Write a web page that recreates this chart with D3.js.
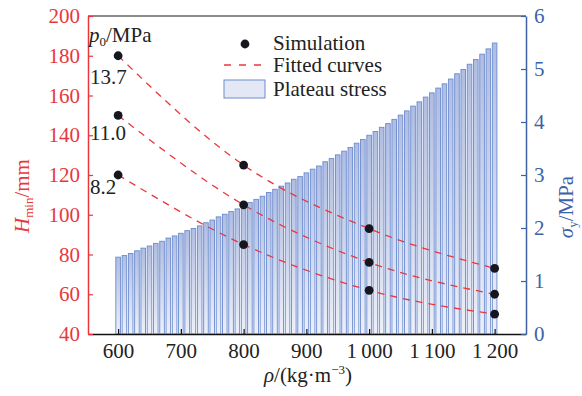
<!DOCTYPE html>
<html><head><meta charset="utf-8">
<script src="https://cdn.jsdelivr.net/npm/d3@7"></script>
<style>
html,body{margin:0;padding:0;background:#fff;}
svg{display:block;}
svg text{font-family:"Liberation Serif","Times New Roman","DejaVu Serif",serif !important;}
</style></head>
<body><svg id="c" width="582" height="396"></svg>
<script>
// ---- data ----
const simRho = [600, 800, 1000, 1200];
const p0Labels = ["13.7", "11.0", "8.2"];
const hSim137 = [180, 125, 93, 73];
const hSim110 = [150, 105, 76, 60];
const hSim82  = [120, 85, 62, 50];
const barRho = [600,610,620,630,640,650,660,670,680,690,700,710,720,730,740,750,760,770,780,790,800,810,820,830,840,850,860,870,880,890,900,910,920,930,940,950,960,970,980,990,1000,1010,1020,1030,1040,1050,1060,1070,1080,1090,1100,1110,1120,1130,1140,1150,1160,1170,1180,1190,1200];
const plateau = [1.45,1.48,1.52,1.57,1.62,1.66,1.71,1.75,1.81,1.85,1.90,1.95,1.99,2.04,2.10,2.15,2.21,2.26,2.31,2.36,2.42,2.48,2.54,2.60,2.67,2.73,2.79,2.85,2.92,2.97,3.04,3.11,3.17,3.25,3.31,3.38,3.45,3.52,3.60,3.67,3.75,3.82,3.90,3.97,4.05,4.13,4.21,4.30,4.38,4.47,4.55,4.64,4.72,4.81,4.91,4.99,5.09,5.18,5.28,5.38,5.49];
const xTicks = [600, 700, 800, 900, 1000, 1100, 1200];
const xTickLabels = ["600", "700", "800", "900", "1\u2009000", "1\u2009100", "1\u2009200"];
const yLeftTicks = [40, 60, 80, 100, 120, 140, 160, 180, 200];
const yRightTicks = [0, 1, 2, 3, 4, 5, 6];

// ---- layout ----
const L = 88, R = 526, T = 16, B = 334;
const RED = "#e8383d", BLUE = "#3d62a8";
const svg = d3.select("#c");

const x = d3.scaleLinear().domain([552, 1250]).range([L, R]);
const yL = d3.scaleLinear().domain([40, 200]).range([B, T]);
const yR = d3.scaleLinear().domain([0, 6]).range([B, T]);

const defs = svg.append("defs");
const g = defs.append("linearGradient").attr("id", "bg").attr("x1", 0).attr("y1", 0).attr("x2", 0).attr("y2", 1);
g.append("stop").attr("offset", "0%").attr("stop-color", "#b0bde1");
g.append("stop").attr("offset", "100%").attr("stop-color", "#edf0f8");

// bars
const bw = 4.6;
svg.append("g").selectAll("rect").data(barRho).join("rect")
  .attr("x", (d) => x(d) - bw / 2)
  .attr("y", (d, i) => yR(plateau[i]))
  .attr("width", bw)
  .attr("height", (d, i) => B - yR(plateau[i]))
  .attr("fill", "url(#bg)")
  .attr("stroke", "#6a8bd0")
  .attr("stroke-width", 0.9);

// fitted curves
const series = [hSim137, hSim110, hSim82];
const line = d3.line().x((d, i) => x(simRho[i])).y((d) => yL(d)).curve(d3.curveMonotoneX);
series.forEach((s) => {
  svg.append("path").attr("d", line(s)).attr("fill", "none")
    .attr("stroke", RED).attr("stroke-width", 1.3).attr("stroke-dasharray", "7,6");
});
// points
series.forEach((s) => {
  svg.append("g").selectAll("circle").data(s).join("circle")
    .attr("cx", (d, i) => x(simRho[i])).attr("cy", (d) => yL(d)).attr("r", 4.4)
    .attr("fill", "#16161e");
});

// axes
const fs = 21;
svg.append("line").attr("x1", L).attr("x2", R).attr("y1", T).attr("y2", T).attr("stroke", "#666").attr("stroke-width", 1.5);

const ax = svg.append("g").attr("transform", `translate(0,${B})`)
  .call(d3.axisBottom(x).tickValues(xTicks).tickSizeInner(-5).tickSizeOuter(0)
    .tickFormat((d, i) => xTickLabels[i]).tickPadding(9));
ax.select(".domain").attr("stroke", "#111").attr("stroke-width", 1.5);
ax.selectAll(".tick line").attr("stroke", "#111").attr("stroke-width", 1.2);
ax.selectAll(".tick text").attr("font-size", fs).attr("fill", "#222");

const al = svg.append("g").attr("transform", `translate(${L},0)`)
  .call(d3.axisLeft(yL).tickValues(yLeftTicks).tickSizeInner(-5).tickSizeOuter(0).tickPadding(8).tickFormat(d3.format("d")));
al.select(".domain").attr("stroke", RED).attr("stroke-width", 1.5);
al.selectAll(".tick line").attr("stroke", RED).attr("stroke-width", 1.2);
al.selectAll(".tick text").attr("font-size", fs).attr("fill", RED);

const ar = svg.append("g").attr("transform", `translate(${R},0)`)
  .call(d3.axisRight(yR).tickValues(yRightTicks).tickSizeInner(-5).tickSizeOuter(0).tickPadding(8).tickFormat(d3.format("d")));
ar.select(".domain").attr("stroke", BLUE).attr("stroke-width", 1.5);
ar.selectAll(".tick line").attr("stroke", BLUE).attr("stroke-width", 1.2);
ar.selectAll(".tick text").attr("font-size", fs).attr("fill", BLUE);

// axis titles
const tl = svg.append("text").attr("transform", "translate(29,196) rotate(-90)")
  .attr("text-anchor", "middle").attr("font-size", fs).attr("fill", RED);
tl.append("tspan").attr("font-style", "italic").text("H");
tl.append("tspan").attr("font-size", 13).attr("dy", 4).text("min");
tl.append("tspan").attr("dy", -4).text("/mm");

const tr = svg.append("text").attr("transform", "translate(573,207) rotate(-90)")
  .attr("text-anchor", "middle").attr("font-size", fs).attr("fill", BLUE);
tr.append("tspan").attr("font-style", "italic").text("σ");
tr.append("tspan").attr("font-size", 13).attr("dy", 4).text("y");
tr.append("tspan").attr("dy", -4).text("/MPa");

const tb = svg.append("text").attr("x", 308).attr("y", 382)
  .attr("text-anchor", "middle").attr("font-size", fs).attr("fill", "#222");
tb.append("tspan").attr("font-style", "italic").text("ρ");
tb.append("tspan").text("/(kg·m");
tb.append("tspan").attr("font-size", 13).attr("dy", -8).text("−3");
tb.append("tspan").attr("dy", 8).text(")");

// annotations
const pt = svg.append("text").attr("x", 89).attr("y", 42).attr("font-size", fs).attr("fill", "#222");
pt.append("tspan").attr("font-style", "italic").text("p");
pt.append("tspan").attr("font-size", 13).attr("dy", 4).text("0");
pt.append("tspan").attr("dy", -4).text("/MPa");
const annY = [84, 140, 194];
p0Labels.forEach((t, i) => {
  svg.append("text").attr("x", 90).attr("y", annY[i]).attr("font-size", fs).attr("fill", "#222").text(t);
});

// legend
const lg = svg.append("g");
lg.append("circle").attr("cx", 245).attr("cy", 44).attr("r", 4.4).attr("fill", "#16161e");
lg.append("text").attr("x", 273).attr("y", 50).attr("font-size", fs).attr("fill", "#222").text("Simulation");
lg.append("line").attr("x1", 224).attr("x2", 266).attr("y1", 65).attr("y2", 65)
  .attr("stroke", RED).attr("stroke-width", 1.3).attr("stroke-dasharray", "7,8");
lg.append("text").attr("x", 273).attr("y", 72).attr("font-size", fs).attr("fill", "#222").text("Fitted curves");
lg.append("rect").attr("x", 224).attr("y", 80).attr("width", 41).attr("height", 18)
  .attr("fill", "#e4e8f5").attr("stroke", "#6a8bd0").attr("stroke-width", 1);
lg.append("text").attr("x", 273).attr("y", 96).attr("font-size", fs).attr("fill", "#222").text("Plateau stress");
</script></body></html>
